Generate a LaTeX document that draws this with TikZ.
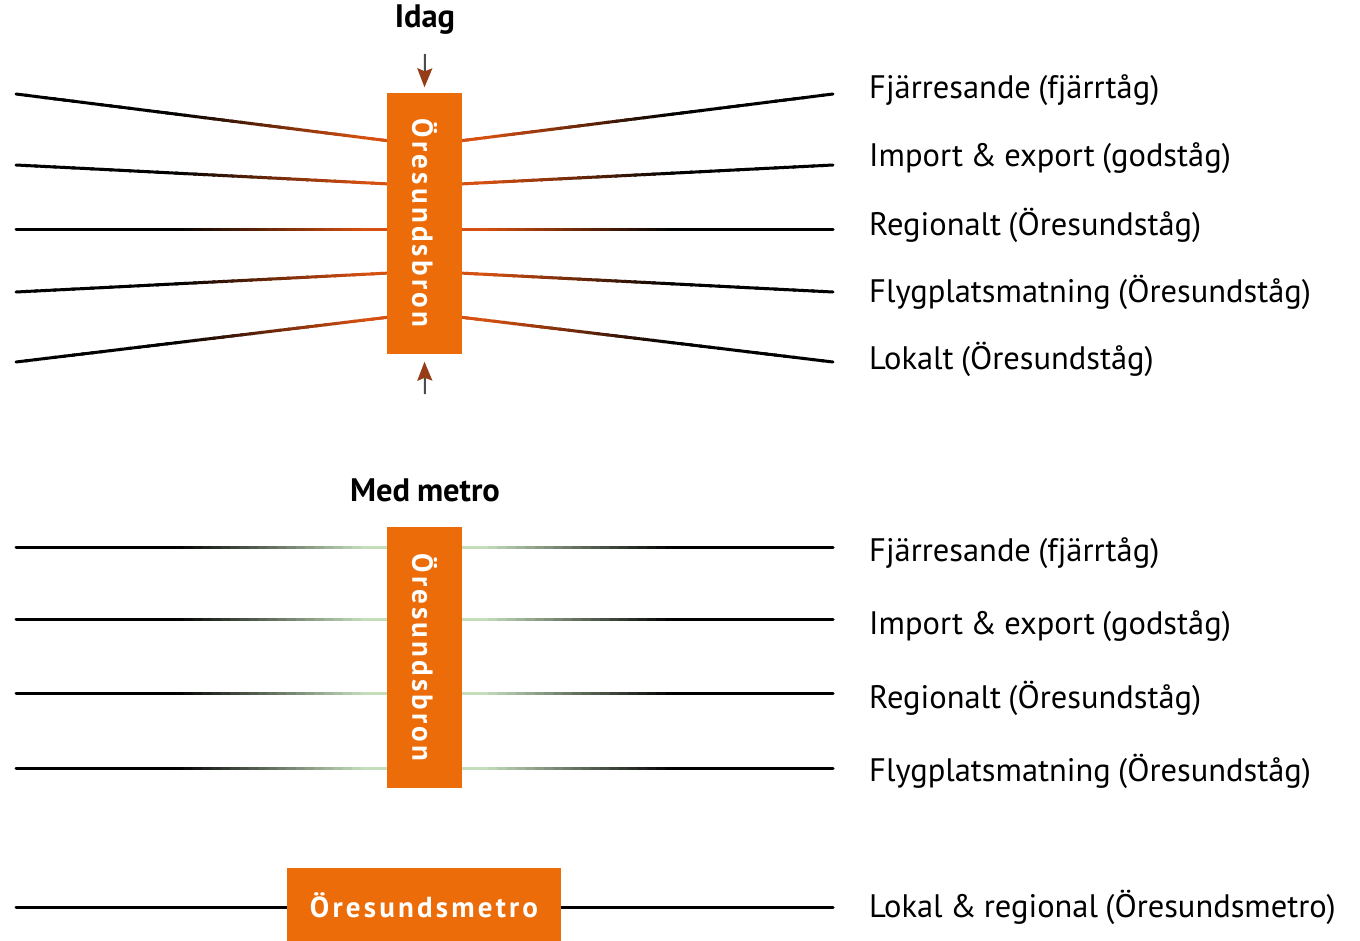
\documentclass[tikz,border=0pt]{standalone}
\usepackage{fontspec}
\setmainfont{PT Sans}[WordSpace=0.85]
\newfontfamily\boxfont{PT Sans}[LetterSpace=11,BoldFont={PT Sans Bold}]
\usetikzlibrary{calc,arrows.meta}
\definecolor{boxorange}{RGB}{236,108,10}
\definecolor{lineorange}{RGB}{214,80,18}
\definecolor{linegreen}{RGB}{196,222,188}
\definecolor{arrowbrown}{RGB}{150,60,25}
\newcommand\gradline[3]{%
  \foreach \i in {0,...,39}{%
    \pgfmathsetmacro\ta{\i/40}%
    \pgfmathsetmacro\tb{(\i+1.3)/40}%
    \pgfmathsetmacro\mixv{max(0,min(100,(\ta-0.42)/0.5*100))}%
    \draw[gline,color=#3!\mixv!black] ($(#1)!\ta!(#2)$) -- ($(#1)!\tb!(#2)$);
  }}
\tikzset{
  gline/.style={line width=3pt,line cap=round},
  bigbox/.style={fill=boxorange,draw=none,inner sep=0pt},
  boxtext/.style={text=white,font=\boxfont\bfseries\fontsize{29}{32}\selectfont},
  lbl/.style={anchor=west,inner sep=0pt,font=\fontsize{32.5}{36}\selectfont},
  head/.style={font=\bfseries\fontsize{32.5}{36}\selectfont,inner sep=0pt},
  arr/.style={line width=2pt,color=black!70,-{Stealth[length=19pt,width=15pt,inset=3pt,color=arrowbrown]}},
}
\begin{document}
\begin{tikzpicture}[x=1pt,y=-1pt]
\useasboundingbox (0,0) rectangle (1360,940);
\fill[white] (0,0) rectangle (1360,940);
% ---------- top part ----------
\foreach \n/\yo/\yi in {1/94/141,2/165/184,3/229/229,4/292/273,5/362/317}{
  \coordinate (L\n) at (16,\yo);
  \coordinate (Lb\n) at (390,\yi);
  \coordinate (R\n) at (833,\yo);
  \coordinate (Rb\n) at (459,\yi);
  \gradline{L\n}{Lb\n}{lineorange}
  \gradline{R\n}{Rb\n}{lineorange}
}
\node[bigbox,minimum width=75pt,minimum height=261pt] (b1) at (424.5,223) {};
\node[boxtext,rotate=-90] (b1t) at (b1) {Öresundsbron};
\node[head] (idag) at (425,20) {Idag};
\coordinate (a1s) at (425,54);
\coordinate (a2s) at (425,394);
\draw[arr] (a1s) -- ($(b1.north)+(0,-5)$);
\draw[arr] (a2s) -- ($(b1.south)+(0,8)$);
\foreach \n/\y/\t in {1/90/Fjärresande (fjärrtåg),2/158/Import \& export (godståg),3/225/Regionalt (Öresundståg),4/292/Flygplatsmatning (Öresundståg),5/359/Lokalt (Öresundståg)}{
  \node[lbl] (t\n) at (869,\y) {\t};
}
% ---------- lower part ----------
\foreach \n/\y in {1/547,2/619,3/693,4/768}{
  \coordinate (M\n) at (16,\y);
  \coordinate (Mb\n) at (390,\y);
  \coordinate (N\n) at (833,\y);
  \coordinate (Nb\n) at (459,\y);
  \gradline{M\n}{Mb\n}{linegreen}
  \gradline{N\n}{Nb\n}{linegreen}
}
\node[bigbox,minimum width=75pt,minimum height=261pt] (b2) at (424.5,657.5) {};
\node[boxtext,rotate=-90] (b2t) at (b2) {Öresundsbron};
\node[head] (med) at (425,490) {Med metro};
\foreach \n/\y/\t in {1/553/Fjärresande (fjärrtåg),2/626/Import \& export (godståg),3/698/Regionalt (Öresundståg),4/771/Flygplatsmatning (Öresundståg)}{
  \node[lbl] (u\n) at (869,\y) {\t};
}
% ---------- metro ----------
\coordinate (P1) at (16,907);
\coordinate (P2) at (833,907);
\draw[gline] (P1) -- (P2);
\node[bigbox,minimum width=274pt,minimum height=74pt] (bm) at (424,905) {};
\node[boxtext] (bmt) at (bm) {Öresundsmetro};
\node[lbl] (v1) at (869,907) {Lokal \& regional (Öresundsmetro)};
\end{tikzpicture}
\end{document}
